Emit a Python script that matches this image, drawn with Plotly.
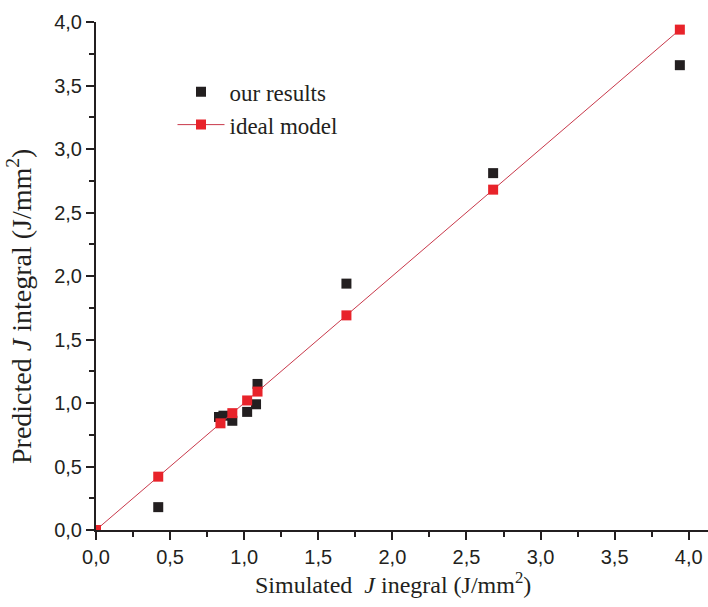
import plotly.graph_objects as go

# Simulated J integral values (J/mm^2)
simulated = [0.42, 0.83, 0.86, 0.92, 1.02, 1.08, 1.09, 1.69, 2.68, 3.94]
# Predicted values from our model
our_results = [0.18, 0.89, 0.90, 0.86, 0.93, 0.99, 1.15, 1.94, 2.81, 3.66]
# Ideal model: prediction equals simulation
ideal_x = [0.0, 0.42, 0.84, 0.92, 1.02, 1.09, 1.69, 2.68, 3.94]
ideal_y = [0.0, 0.42, 0.84, 0.92, 1.02, 1.09, 1.69, 2.68, 3.94]

tick_vals = [0.0, 0.5, 1.0, 1.5, 2.0, 2.5, 3.0, 3.5, 4.0]

fig = go.Figure()
fig.add_trace(go.Scatter(
    x=simulated, y=our_results, mode="markers", name="our results",
    marker=dict(symbol="square", size=10, color="#231f20"),
))
fig.add_trace(go.Scatter(
    x=ideal_x, y=ideal_y, mode="lines+markers", name="ideal model",
    line=dict(color="#c8384a", width=1),
    marker=dict(symbol="square", size=10, color="#e8232a"),
))

axis_common = dict(
    showgrid=False, zeroline=False, showline=True, linecolor="#231f20", linewidth=2,
    ticks="outside", ticklen=8, tickwidth=2, tickcolor="#231f20",
    tickvals=tick_vals, tickformat=".1f",
    tickfont=dict(family="Liberation Sans, Arial", size=20, color="#231f20"),
    minor=dict(ticks="outside", ticklen=5, tickwidth=2, tickcolor="#231f20", dtick=0.25, tick0=0),
)

fig.update_xaxes(range=[0, 4.13], **axis_common)
fig.update_yaxes(range=[0, 4.0], **axis_common)

serif = "Liberation Serif, Times New Roman"

fig.update_layout(
    width=708, height=607,
    margin=dict(l=96, r=0, t=22, b=77),
    paper_bgcolor="white", plot_bgcolor="white",
    separators=", ",
    showlegend=True,
    legend=dict(
        x=0.125, y=0.905, xanchor="left", yanchor="top",
        bgcolor="rgba(0,0,0,0)",
        font=dict(family=serif, size=23, color="#231f20"),
        itemwidth=47,
    ),
    annotations=[
        dict(text="Simulated  <i>J</i> inegral (J/mm<sup>2</sup>)", xref="paper", yref="paper",
             x=0.485, y=-0.104, xanchor="center", yanchor="middle", showarrow=False,
             font=dict(family=serif, size=24, color="#231f20")),
        dict(text="Predicted <i>J</i> integral (J/mm<sup>2</sup>)", xref="paper", yref="paper",
             x=-0.125, y=0.44, xanchor="center", yanchor="middle", textangle=-90,
             showarrow=False, font=dict(family=serif, size=28, color="#231f20")),
    ],
)

fig.write_html("out.html")
